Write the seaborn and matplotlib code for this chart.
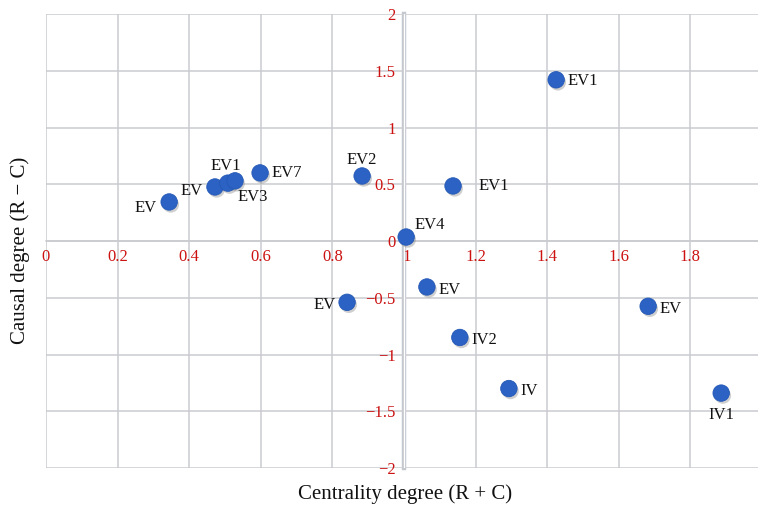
import matplotlib
matplotlib.use("Agg")
import matplotlib.pyplot as plt
import matplotlib.patheffects as pe
import matplotlib.transforms as mtransforms
from matplotlib.ticker import FuncFormatter
import seaborn as sns
import pandas as pd

# ---- data ----
centrality = [0.344, 0.472, 0.508, 0.528, 0.598, 0.883, 1.425, 1.137, 1.006,
              0.841, 1.064, 1.156, 1.293, 1.682, 1.886]
causal = [0.344, 0.476, 0.51, 0.53, 0.60, 0.573, 1.42, 0.485, 0.035,
          -0.54, -0.405, -0.85, -1.30, -0.575, -1.34]
labels = ["EV", "EV", "", "EV1", "EV7", "EV2", "EV1", "EV1", "EV4",
          "EV", "EV", "IV2", "IV", "EV", "IV1"]
# secondary label for the overlapping cluster point
extra_label = "EV3"
x_ticks = [0, 0.2, 0.4, 0.6, 0.8, 1, 1.2, 1.4, 1.6, 1.8, 2]
y_ticks = [-2, -1.5, -1, -0.5, 0, 0.5, 1, 1.5, 2]

# label offsets in points (style only)
offsets = [(-9, -4, "right", "center"), (-9, -3, "right", "center"), (0, 0, "left", "center"),
           (-7, 5, "center", "bottom"), (8, 0, "left", "center"), (0, 6, "center", "bottom"),
           (8, -1, "left", "center"), (18, 0, "left", "center"), (6, 3, "left", "bottom"),
           (-8, -2, "right", "center"), (8, -2, "left", "center"), (8, -2, "left", "center"),
           (8, -2, "left", "center"), (8, -2, "left", "center"), (0, -10, "center", "top")]

df = pd.DataFrame({"x": centrality, "y": causal, "label": labels})

sns.set_style("white")
plt.rcParams["font.family"] = ["Liberation Serif", "DejaVu Serif"]

fig = plt.figure(figsize=(7.58, 5.08), dpi=100)
ax = fig.add_axes([46 / 758, 1 - 468 / 508, (762 - 46) / 758, (468 - 14) / 508])

sns.scatterplot(data=df, x="x", y="y", ax=ax, s=140, color="#2b62c4",
                edgecolor="#2458b5", linewidth=0.6, zorder=5,
                path_effects=[pe.SimplePatchShadow(offset=(1.2, -1.8), shadow_rgbFace="#777777", alpha=0.35),
                              pe.Normal()])

for (xv, yv, lab), (dx, dy, ha, va) in zip(zip(centrality, causal, labels), offsets):
    if lab:
        ax.annotate(lab, (xv, yv), xytext=(dx, dy), textcoords="offset points",
                    ha=ha, va=va, fontsize=12, color="#111111", zorder=6)
# EV3 label for the cluster
ax.annotate(extra_label, (centrality[3], causal[3]), xytext=(2, -6), textcoords="offset points",
            ha="left", va="top", fontsize=12, color="#111111", zorder=6)

ax.set_xlim(0, 2)
ax.set_ylim(-2, 2)
ax.set_xticks(x_ticks)
ax.set_yticks(y_ticks)
fmt = FuncFormatter(lambda v, p: ("%g" % v).replace("-", "\u2212"))
ax.xaxis.set_major_formatter(fmt)
ax.yaxis.set_major_formatter(fmt)

ax.grid(True, color="#c9cbcf", linewidth=1.1)
ax.set_axisbelow(True)
for s in ["top", "right"]:
    ax.spines[s].set_visible(False)
ax.spines["left"].set_position(("data", 1))
ax.spines["bottom"].set_position(("data", 0))
ax.spines["left"].set_color("#c4c8cf")
ax.spines["left"].set_linewidth(3.2)
ax.spines["left"].set_zorder(1)
ax.spines["bottom"].set_color("#c9cbcf")
ax.spines["bottom"].set_linewidth(1.1)
ax.spines["bottom"].set_zorder(1)
ax.xaxis.set_zorder(2)
ax.yaxis.set_zorder(2)
ax.axvline(1, color="white", linewidth=0.9, zorder=2.5)
ax.tick_params(axis="both", length=0, labelsize=12, labelcolor="#cc1111")
ax.tick_params(axis="x", pad=6)
ax.tick_params(axis="y", pad=6)

fig.canvas.draw()
for lbl, tv in zip(ax.get_xticklabels(), x_ticks):
    if tv == 1:
        lbl.set_transform(lbl.get_transform() + mtransforms.ScaledTranslation(3 / 100, 0, fig.dpi_scale_trans))

ax.set_xlabel("")
ax.set_ylabel("")
fig.text(405 / 758, 1 - 494 / 508, "Centrality degree (R + C)", ha="center", va="center",
         fontsize=15, color="#111111")
fig.text(20 / 758, 1 - 250 / 508, "Causal degree (R \u2212 C)", ha="center", va="center",
         rotation=90, fontsize=15, color="#111111")

fig.savefig("out.png", dpi=100)
